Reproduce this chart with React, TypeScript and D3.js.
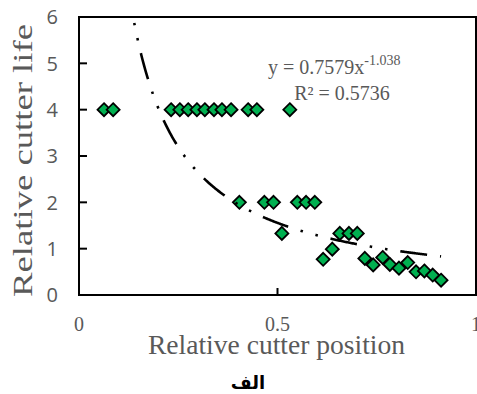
import React from "react";
import * as d3 from "d3";

const xValues = [
  0.063, 0.086, 0.232, 0.254, 0.275, 0.297, 0.317, 0.34, 0.36, 0.383, 0.404,
  0.426, 0.448, 0.467, 0.49, 0.511, 0.531, 0.55, 0.572, 0.594, 0.615, 0.638,
  0.657, 0.68, 0.701, 0.72, 0.741, 0.765, 0.783, 0.806, 0.828, 0.849, 0.87,
  0.891, 0.912,
];
const yValues = [
  4, 4, 4, 4, 4, 4, 4, 4, 4, 4, 2, 4, 4, 2, 2, 1.33, 4, 2, 2, 2, 0.77, 0.99,
  1.33, 1.33, 1.33, 0.79, 0.65, 0.81, 0.66, 0.58, 0.7, 0.5, 0.52, 0.43, 0.32,
];
const yTicks = [0, 1, 2, 3, 4, 5, 6];
const xTicks = [0, 0.5, 1];
const xTickLabels = ["0", "0.5", "1"];
const fitA = 0.7579;
const fitB = -1.038;
const eqMain = "y = 0.7579x";
const eqExp = "-1.038";
const eqR2 = "R² = 0.5736";
const xTitle = "Relative cutter position";
const yTitle = "Relative cutter life";
const caption = "الف";

export default function App() {
  const W = 477;
  const H = 394;
  const L = 79, R = 476, T = 17, B = 295;
  const x = d3.scaleLinear().domain([0, 1]).range([L, R]);
  const y = d3.scaleLinear().domain([0, 6]).range([B, T]);

  const x0 = Math.pow(6 / fitA, 1 / fitB);
  const x1 = d3.max(xValues) as number;
  const n = 300;
  const trend = d3.range(n + 1).map((i) => {
    const xv = x0 + ((x1 - x0) * i) / n;
    return [xv, fitA * Math.pow(xv, fitB)] as [number, number];
  });
  const line = d3
    .line<[number, number]>()
    .x((d) => x(d[0]))
    .y((d) => y(d[1]));

  const grey = "#595959";
  const order = d3.range(xValues.length).sort((a, b) => xValues[a] - xValues[b]);
  const dm = 6.5;

  return (
    <svg
      width={W}
      height={H}
      style={{ position: "absolute", left: 0, top: 0, background: "#fff" }}
    >
      <rect x={0} y={0} width={W} height={H} fill="#fff" />
      {yTicks.map((t) => (
        <line key={"yt" + t} x1={L} x2={L + 8} y1={y(t)} y2={y(t)} stroke="#000" strokeWidth={2} />
      ))}
      {xTicks.map((t) => (
        <line key={"xt" + t} x1={x(t)} x2={x(t)} y1={B} y2={B - 7} stroke="#000" strokeWidth={2} />
      ))}
      {order.map((i) => {
        const cx = x(xValues[i]);
        const cy = y(yValues[i]);
        return (
          <path
            key={"m" + i}
            d={`M${cx},${cy - dm}L${cx + dm},${cy}L${cx},${cy + dm}L${cx - dm},${cy}Z`}
            fill="#00B050"
            stroke="#000"
            strokeWidth={1.8}
            strokeLinejoin="miter"
          />
        );
      })}
      <path
        d={line(trend) || ""}
        fill="none"
        stroke="#000"
        strokeWidth={2.6}
        strokeDasharray="27 13 2.5 13 2.5 13"
        strokeDashoffset={34}
      />
      <rect x={L} y={T} width={R - L} height={B - T} fill="none" stroke="#000" strokeWidth={2} />
      {yTicks.map((t) => (
        <text
          key={"yl" + t}
          x={58}
          y={y(t)}
          dy="0.36em"
          textAnchor="end"
          fontFamily="'Open Sans', 'Noto Sans', sans-serif"
          fontSize={20}
          fill={grey}
        >
          {t}
        </text>
      ))}
      {xTicks.map((t, i) => (
        <text
          key={"xl" + t}
          x={x(t)}
          y={331}
          textAnchor="middle"
          fontFamily="'Liberation Serif', 'Times New Roman', serif"
          fontSize={20}
          fill={grey}
        >
          {xTickLabels[i]}
        </text>
      ))}
      <text
        x={268}
        y={74}
        fontFamily="'Liberation Serif', 'Times New Roman', serif"
        fontSize={20}
        fill={grey}
      >
        {eqMain}
        <tspan fontSize={14} dy={-9}>
          {eqExp}
        </tspan>
      </text>
      <text
        x={342}
        y={100}
        textAnchor="middle"
        fontFamily="'Liberation Serif', 'Times New Roman', serif"
        fontSize={20}
        fill={grey}
      >
        {eqR2}
      </text>
      <text
        x={276.5}
        y={354}
        textAnchor="middle"
        fontFamily="'Liberation Serif', 'Times New Roman', serif"
        fontSize={27}
        fill={grey}
        textLength={257}
        lengthAdjust="spacingAndGlyphs"
      >
        {xTitle}
      </text>
      <text
        transform="translate(31.5,160.5) rotate(-90)"
        x={0}
        y={0}
        textAnchor="middle"
        fontFamily="'Liberation Serif', 'Times New Roman', serif"
        fontSize={27}
        fill={grey}
        textLength={273}
        lengthAdjust="spacingAndGlyphs"
      >
        {yTitle}
      </text>
      <text
        x={248}
        y={389}
        textAnchor="middle"
        fontFamily="'DejaVu Sans', sans-serif"
        fontWeight="bold"
        fontSize={18}
        fill="#000"
      >
        {caption}
      </text>
    </svg>
  );
}
